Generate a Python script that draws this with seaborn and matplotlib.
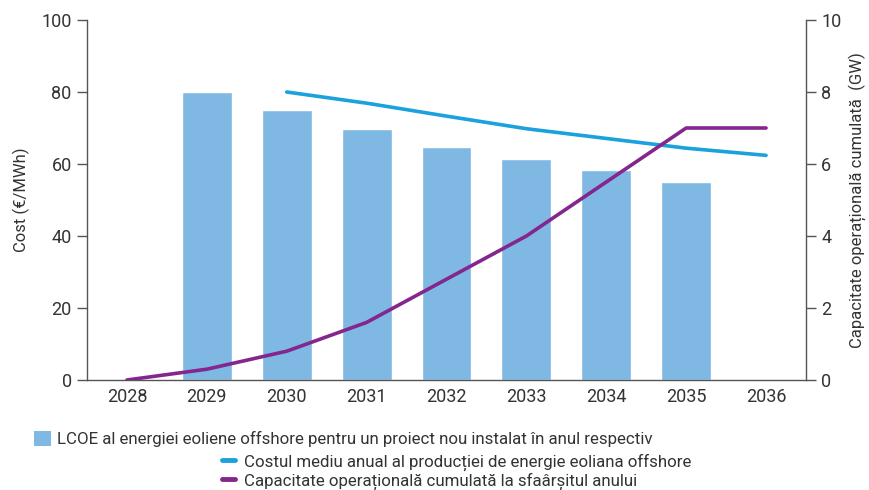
import matplotlib
matplotlib.use("Agg")
import matplotlib.pyplot as plt
import seaborn as sns
import pandas as pd
from matplotlib.patches import Patch
from matplotlib.lines import Line2D

years = ["2028", "2029", "2030", "2031", "2032", "2033", "2034", "2035", "2036"]

lcoe_years = ["2029", "2030", "2031", "2032", "2033", "2034", "2035"]
lcoe_values = [80, 75, 69.8, 64.8, 61.5, 58.4, 55.1]

avg_cost_years = ["2030", "2031", "2032", "2033", "2034", "2035", "2036"]
avg_cost_values = [80, 76.9, 73.3, 69.8, 67.1, 64.4, 62.4]

capacity_years = years
capacity_values = [0, 0.3, 0.8, 1.6, 2.8, 4.0, 5.5, 7.0, 7.0]

label_bars = "LCOE al energiei eoliene offshore pentru un proiect nou instalat în anul respectiv"
label_avg = "Costul mediu anual al producției de energie eoliana offshore"
label_cap = "Capacitate operațională cumulată la sfaârșitul anului"

bar_color = "#7FB8E3"
avg_color = "#1BA1DB"
cap_color = "#83278E"
text_color = "#333333"
spine_color = "#555555"

sns.set_theme(style="white")
plt.rcParams["font.family"] = ["Roboto", "DejaVu Sans"]

fig = plt.figure(figsize=(8.69, 4.90), dpi=100)
ax = fig.add_axes([87 / 869, 1 - 380 / 490, (806 - 87) / 869, 360 / 490])

pos = {y: i for i, y in enumerate(years)}

bars = pd.DataFrame({"year": lcoe_years, "cost": lcoe_values})
bars["x"] = bars["year"].map(pos)
sns.barplot(data=bars, x="x", y="cost", order=list(range(len(years))),
            color=bar_color, saturation=1, width=0.625, ax=ax, native_scale=True)

avg = pd.DataFrame({"x": [pos[y] for y in avg_cost_years], "cost": avg_cost_values})
sns.lineplot(data=avg, x="x", y="cost", color=avg_color, linewidth=2.6, ax=ax)

ax.set_xlim(-0.5, len(years) - 0.5)
ax.set_ylim(0, 100)
ax.set_yticks([0, 20, 40, 60, 80, 100])
ax.set_xticks(range(len(years)))
ax.set_xticklabels(years)
ax.set_xlabel("")
ax.set_ylabel("Cost (€/MWh)", fontsize=12, color=text_color, labelpad=8)

ax2 = ax.twinx()
cap = pd.DataFrame({"x": [pos[y] for y in capacity_years], "gw": capacity_values})
sns.lineplot(data=cap, x="x", y="gw", color=cap_color, linewidth=2.6, ax=ax2)
ax2.set_ylim(0, 10)
ax2.set_yticks([0, 2, 4, 6, 8, 10])
ax2.set_ylabel("Capacitate operațională cumulată  (GW)", fontsize=12,
               color=text_color, labelpad=5)
ax2.set_xlim(-0.5, len(years) - 0.5)

for a in (ax, ax2):
    a.spines["top"].set_visible(False)
    for s in ("left", "right", "bottom"):
        a.spines[s].set_color(spine_color)
        a.spines[s].set_linewidth(1.0)
    a.tick_params(axis="y", length=7, width=1, color=spine_color,
                  labelsize=13, labelcolor=text_color, pad=4)
    a.tick_params(axis="x", length=0, labelsize=13, labelcolor=text_color, pad=6)
ax.spines["right"].set_visible(False)
ax2.spines["left"].set_visible(False)
ax2.spines["bottom"].set_visible(False)

legend_kw = dict(loc="center left", frameon=False, fontsize=12.2,
                 borderaxespad=0, borderpad=0, labelcolor=text_color)
fig.legend(handles=[Patch(facecolor=bar_color, edgecolor="none")],
           labels=[label_bars], bbox_to_anchor=(34 / 869, 1 - 439 / 490),
           handlelength=1.0, handleheight=1.0, handletextpad=0.35, **legend_kw)
fig.legend(handles=[Line2D([], [], color=avg_color, linewidth=3.5)],
           labels=[label_avg], bbox_to_anchor=(222 / 869, 1 - 462 / 490),
           handlelength=0.75, handletextpad=0.55, **legend_kw)
fig.legend(handles=[Line2D([], [], color=cap_color, linewidth=3.5)],
           labels=[label_cap], bbox_to_anchor=(222 / 869, 1 - 481 / 490),
           handlelength=0.75, handletextpad=0.55, **legend_kw)

fig.savefig("out.png", dpi=100)
